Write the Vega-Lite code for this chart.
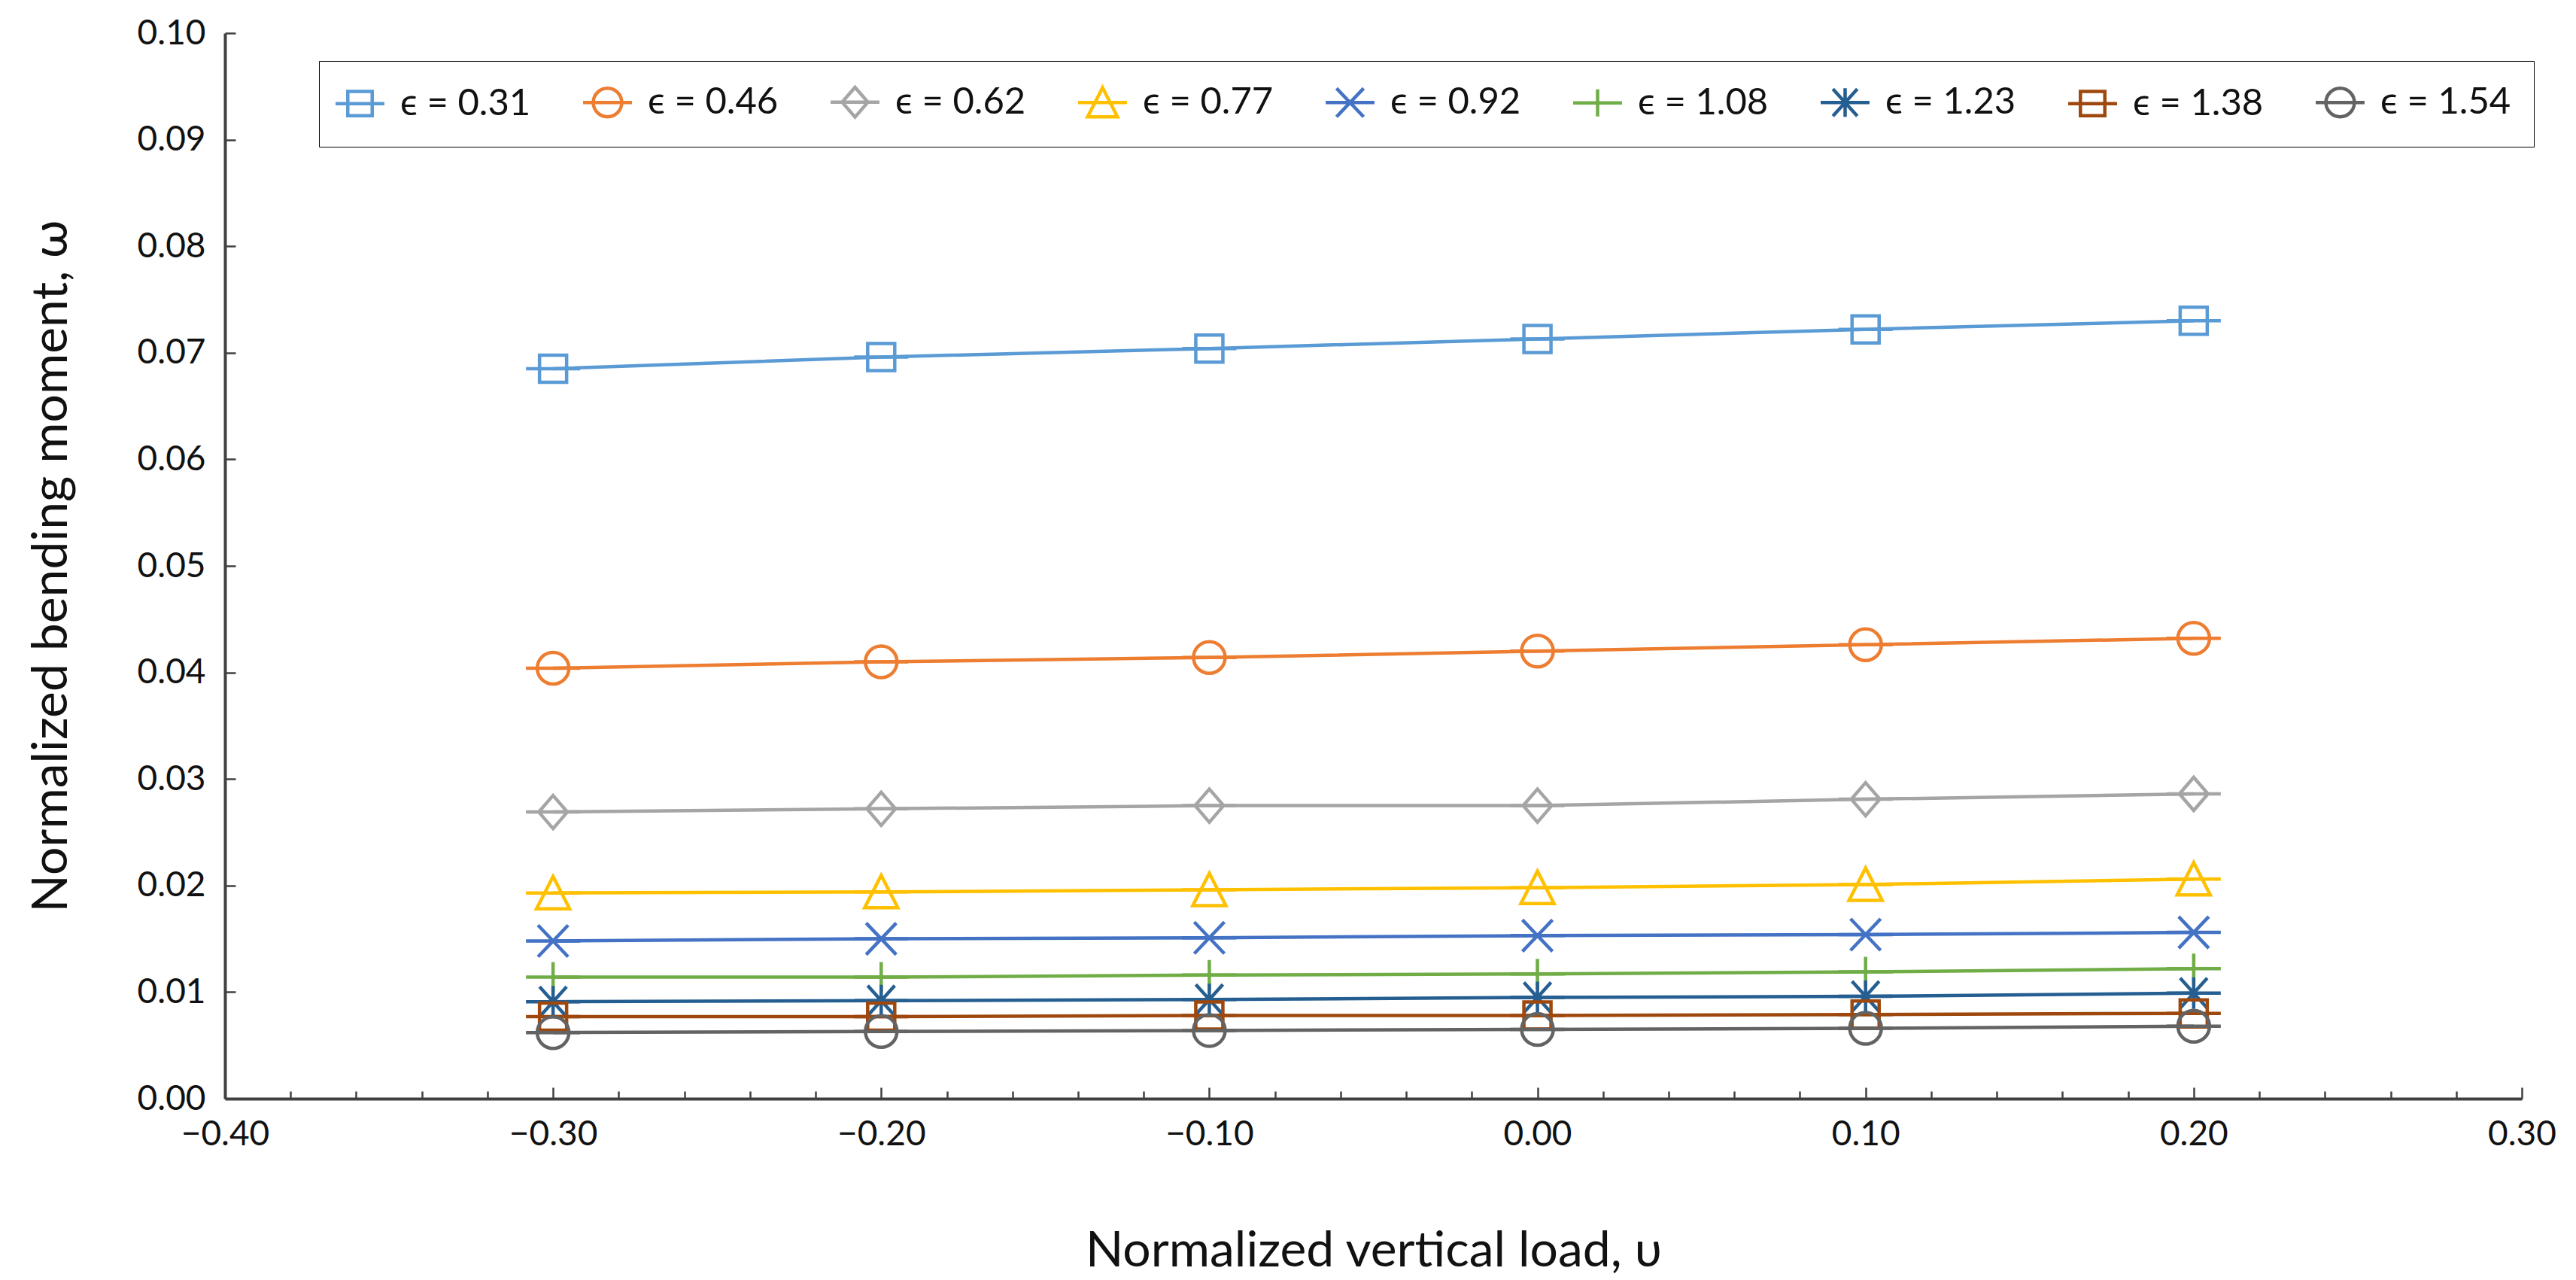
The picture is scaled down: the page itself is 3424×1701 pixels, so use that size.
{
  "$schema": "https://vega.github.io/schema/vega-lite/v6.json",
  "autosize": {"type": "none"},
  "width": 3053,
  "height": 1416,
  "padding": {"left": 299, "top": 44, "right": 72, "bottom": 241},
  "background": "white",
  "config": {
    "view": {"stroke": null},
    "font": "Lato",
    "axis": {"grid": false, "labelFont": "Lato", "titleFont": "Lato", "labelColor": "#111", "titleColor": "#111", "titleFontWeight": "normal", "domainColor": "#404040", "domainWidth": 4, "tickColor": "#404040", "tickWidth": 2.5},
    "legend": {"labelFont": "Lato", "labelColor": "#111"}
  },
  "data": {"values": [
    {"v": -0.3, "eps": 0.31, "w": 0.0685}, {"v": -0.2, "eps": 0.31, "w": 0.0696}, {"v": -0.1, "eps": 0.31, "w": 0.0704}, {"v": 0.0, "eps": 0.31, "w": 0.0713}, {"v": 0.1, "eps": 0.31, "w": 0.0722}, {"v": 0.2, "eps": 0.31, "w": 0.0730},
    {"v": -0.3, "eps": 0.46, "w": 0.0404}, {"v": -0.2, "eps": 0.46, "w": 0.0410}, {"v": -0.1, "eps": 0.46, "w": 0.0414}, {"v": 0.0, "eps": 0.46, "w": 0.0420}, {"v": 0.1, "eps": 0.46, "w": 0.0426}, {"v": 0.2, "eps": 0.46, "w": 0.0432},
    {"v": -0.3, "eps": 0.62, "w": 0.0269}, {"v": -0.2, "eps": 0.62, "w": 0.0272}, {"v": -0.1, "eps": 0.62, "w": 0.0275}, {"v": 0.0, "eps": 0.62, "w": 0.0275}, {"v": 0.1, "eps": 0.62, "w": 0.0281}, {"v": 0.2, "eps": 0.62, "w": 0.0286},
    {"v": -0.3, "eps": 0.77, "w": 0.0193}, {"v": -0.2, "eps": 0.77, "w": 0.0194}, {"v": -0.1, "eps": 0.77, "w": 0.0196}, {"v": 0.0, "eps": 0.77, "w": 0.0198}, {"v": 0.1, "eps": 0.77, "w": 0.0201}, {"v": 0.2, "eps": 0.77, "w": 0.0206},
    {"v": -0.3, "eps": 0.92, "w": 0.0148}, {"v": -0.2, "eps": 0.92, "w": 0.0150}, {"v": -0.1, "eps": 0.92, "w": 0.0151}, {"v": 0.0, "eps": 0.92, "w": 0.0153}, {"v": 0.1, "eps": 0.92, "w": 0.0154}, {"v": 0.2, "eps": 0.92, "w": 0.0156},
    {"v": -0.3, "eps": 1.08, "w": 0.0114}, {"v": -0.2, "eps": 1.08, "w": 0.0114}, {"v": -0.1, "eps": 1.08, "w": 0.0116}, {"v": 0.0, "eps": 1.08, "w": 0.0117}, {"v": 0.1, "eps": 1.08, "w": 0.0119}, {"v": 0.2, "eps": 1.08, "w": 0.0122},
    {"v": -0.3, "eps": 1.23, "w": 0.0091}, {"v": -0.2, "eps": 1.23, "w": 0.0092}, {"v": -0.1, "eps": 1.23, "w": 0.0093}, {"v": 0.0, "eps": 1.23, "w": 0.0095}, {"v": 0.1, "eps": 1.23, "w": 0.0096}, {"v": 0.2, "eps": 1.23, "w": 0.0099},
    {"v": -0.3, "eps": 1.38, "w": 0.0077}, {"v": -0.2, "eps": 1.38, "w": 0.0077}, {"v": -0.1, "eps": 1.38, "w": 0.0078}, {"v": 0.0, "eps": 1.38, "w": 0.0078}, {"v": 0.1, "eps": 1.38, "w": 0.0079}, {"v": 0.2, "eps": 1.38, "w": 0.0080},
    {"v": -0.3, "eps": 1.54, "w": 0.0062}, {"v": -0.2, "eps": 1.54, "w": 0.0063}, {"v": -0.1, "eps": 1.54, "w": 0.0064}, {"v": 0.0, "eps": 1.54, "w": 0.0065}, {"v": 0.1, "eps": 1.54, "w": 0.0066}, {"v": 0.2, "eps": 1.54, "w": 0.0068}
  ]},
  "encoding": {
    "x": {
      "field": "v", "type": "quantitative",
      "scale": {"domain": [-0.4, 0.3], "nice": false, "zero": false},
      "axis": {
        "title": "Normalized vertical load, υ",
        "titleFontSize": 66, "titleBaseline": "alphabetic", "titleY": 222,
        "values": [-0.4, -0.38, -0.36, -0.34, -0.32, -0.3, -0.28, -0.26, -0.24, -0.22, -0.2, -0.18, -0.16, -0.14, -0.12, -0.1, -0.08, -0.06, -0.04, -0.02, 0, 0.02, 0.04, 0.06, 0.08, 0.1, 0.12, 0.14, 0.16, 0.18, 0.2, 0.22, 0.24, 0.26, 0.28, 0.3],
        "format": ".2f",
        "labelExpr": "abs(datum.value * 10 - round(datum.value * 10)) < 0.001 ? datum.label : ''",
        "labelFontSize": 46, "labelPadding": 40, "labelOverlap": false, "labelFlush": false,
        "tickSize": {"condition": {"test": "abs(datum.value * 10 - round(datum.value * 10)) < 0.001", "value": -15}, "value": -10}
      }
    },
    "y": {
      "field": "w", "type": "quantitative",
      "scale": {"domain": [0, 0.1], "nice": false},
      "axis": {
        "title": "Normalized bending moment, ω",
        "titleFontSize": 66, "titleBaseline": "alphabetic", "titleX": -211,
        "values": [0, 0.01, 0.02, 0.03, 0.04, 0.05, 0.06, 0.07, 0.08, 0.09, 0.1],
        "format": ".2f", "labelFontSize": 46, "labelPadding": 40,
        "tickSize": -14
      }
    }
  },
  "layer": [
    {
      "mark": {"type": "line", "strokeWidth": 4.5},
      "encoding": {
        "color": {
          "field": "eps", "type": "nominal",
          "scale": {
            "domain": [0.31, 0.46, 0.62, 0.77, 0.92, 1.08, 1.23, 1.38, 1.54],
            "range": ["#5B9BD5", "#ED7D31", "#A5A5A5", "#FFC000", "#4472C4", "#70AD47", "#255E91", "#9E480E", "#636363"]
          }
        },
        "detail": {"field": "eps", "type": "nominal"}
      }
    },
    {
      "mark": {"type": "point", "filled": false, "strokeWidth": 4.5, "size": 1600, "opacity": 1},
      "encoding": {
        "color": {
          "field": "eps", "type": "nominal",
          "scale": {
            "domain": [0.31, 0.46, 0.62, 0.77, 0.92, 1.08, 1.23, 1.38, 1.54],
            "range": ["#5B9BD5", "#ED7D31", "#A5A5A5", "#FFC000", "#4472C4", "#70AD47", "#255E91", "#9E480E", "#636363"]
          },
          "legend": {
            "title": null,
            "orient": "none", "legendX": 125, "legendY": 37,
            "direction": "horizontal", "columns": 9, "gridAlign": "all",
            "columnPadding": 60, "padding": 30,
            "strokeColor": "#000", "fillColor": "#fff",
            "symbolSize": 1300, "symbolStrokeWidth": 4.5,
            "labelFontSize": 49, "labelOffset": 29, "labelLimit": 0,
            "labelExpr": "'ϵ = ' + format(datum.value, '.2f')"
          }
        },
        "shape": {
          "field": "eps", "type": "nominal",
          "scale": {
            "domain": [0.31, 0.46, 0.62, 0.77, 0.92, 1.08, 1.23, 1.38, 1.54],
            "range": [
              "M-1.8,0H1.8M-0.9,-0.9H0.9V0.9H-0.9Z",
              "M-1.8,0H1.8M-1.05,0A1.05,1.05 0 1,1 1.05,0A1.05,1.05 0 1,1 -1.05,0Z",
              "M-1.8,0H1.8M0,-1.1L0.95,0L0,1.1L-0.95,0Z",
              "M-1.8,0H1.8M0,-1.1L1.1,1.05H-1.1Z",
              "M-1.8,0H1.8M-1,-1.05L1,1.05M1,-1.05L-1,1.05",
              "M-1.8,0H1.8M0,-1V1",
              "M-1.8,0H1.8M0,-1.05V1.05M-0.9,-1L0.9,1M0.9,-1L-0.9,1",
              "M-1.8,0H1.8M-0.9,-0.9H0.9V0.9H-0.9Z",
              "M-1.8,0H1.8M-1.05,0A1.05,1.05 0 1,1 1.05,0A1.05,1.05 0 1,1 -1.05,0Z"
            ]
          },
          "legend": {
            "title": null,
            "orient": "none", "legendX": 125, "legendY": 37,
            "direction": "horizontal", "columns": 9, "gridAlign": "all",
            "columnPadding": 60, "padding": 30,
            "strokeColor": "#000", "fillColor": "#fff",
            "symbolSize": 1300, "symbolStrokeWidth": 4.5,
            "labelFontSize": 49, "labelOffset": 29, "labelLimit": 0,
            "labelExpr": "'ϵ = ' + format(datum.value, '.2f')"
          }
        }
      }
    }
  ]
}
